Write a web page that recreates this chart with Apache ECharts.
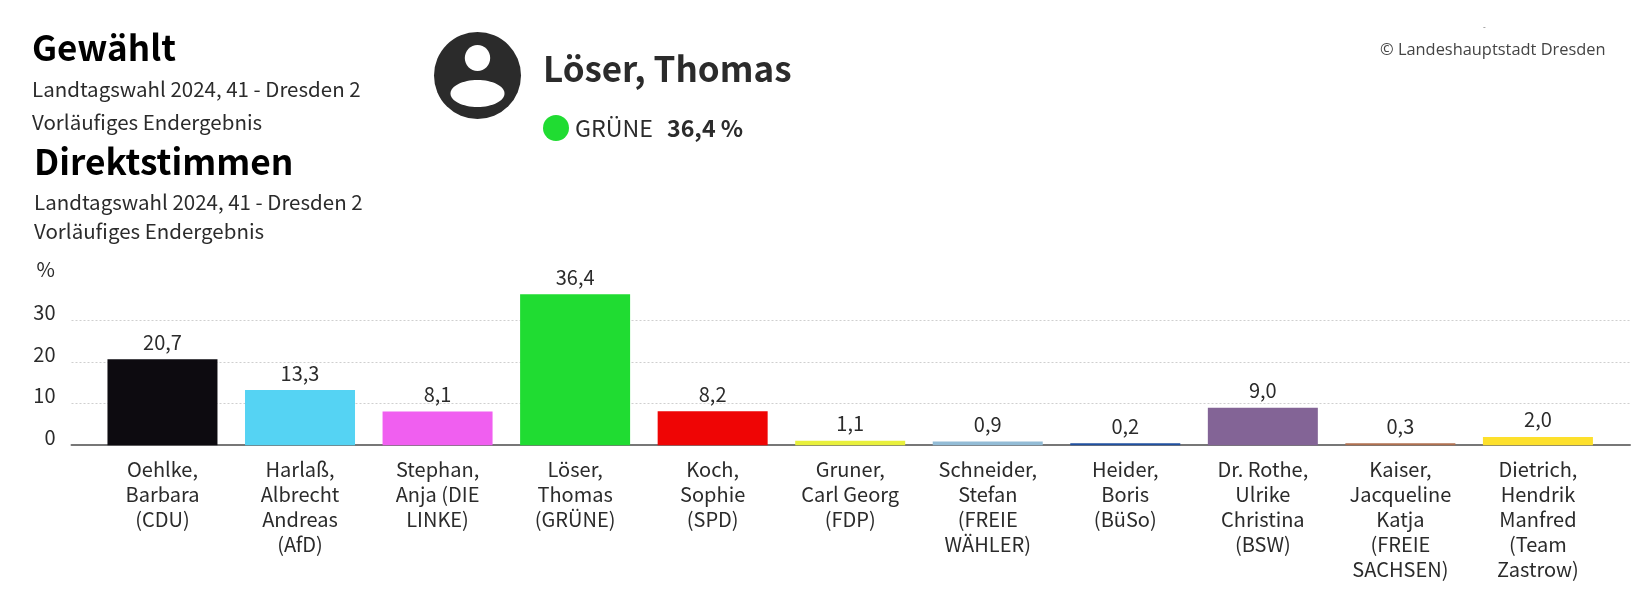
<!DOCTYPE html>
<html>
<head>
<meta charset="utf-8">
<title>Direktstimmen</title>
<style>
  html, body { margin: 0; padding: 0; background: #fff; }
  #chart { width: 1651px; height: 590px; }
</style>
<script src="https://cdn.jsdelivr.net/npm/echarts@6/dist/echarts.min.js"></script>
</head>
<body>
<div id="chart"></div>
<script>
const candidates = [
  'Oehlke,\nBarbara\n(CDU)',
  'Harlaß,\nAlbrecht\nAndreas\n(AfD)',
  'Stephan,\nAnja (DIE\nLINKE)',
  'Löser,\nThomas\n(GRÜNE)',
  'Koch,\nSophie\n(SPD)',
  'Gruner,\nCarl Georg\n(FDP)',
  'Schneider,\nStefan\n(FREIE\nWÄHLER)',
  'Heider,\nBoris\n(BüSo)',
  'Dr. Rothe,\nUlrike\nChristina\n(BSW)',
  'Kaiser,\nJacqueline\nKatja\n(FREIE\nSACHSEN)',
  'Dietrich,\nHendrik\nManfred\n(Team\nZastrow)'
];
const shares = [20.7, 13.3, 8.1, 36.4, 8.2, 1.1, 0.9, 0.2, 9.0, 0.3, 2.0];
const partyColours = ['#0d0b10', '#55d3f3', '#f05ff0', '#20dc32', '#ef0505', '#e8f03c', '#93bcd6', '#2050a0', '#836496', '#b07050', '#fde02c'];

const FONT = '"Noto Sans CJK SC", "Noto Sans", sans-serif';
const INK = '#2b2b2b';

// text block at the top, x/y are left edge and vertical centre
function label(x, y, text, size, weight, extra) {
  return {
    type: 'text',
    x: x,
    y: y,
    silent: true,
    style: Object.assign({
      text: text,
      fill: INK,
      font: `${weight} ${size}px ${FONT}`,
      textVerticalAlign: 'middle'
    }, extra)
  };
}

const chart = echarts.init(document.getElementById('chart'));

chart.setOption({
  animation: false,
  backgroundColor: '#fff',
  textStyle: { fontFamily: FONT },

  // first grid only carries the long baseline and gridlines, second one the bars
  grid: [
    { left: 71.5, width: 1558.5, top: 279.2, height: 166 },
    { left: 93.7, width: 1513, top: 279.2, height: 166 }
  ],

  xAxis: [
    {
      type: 'value',
      gridIndex: 0,
      min: 0,
      max: 1,
      axisLine: { show: true, onZero: false, lineStyle: { color: '#777', width: 2 } },
      axisTick: { show: false },
      axisLabel: { show: false },
      splitLine: { show: false }
    },
    {
      type: 'category',
      gridIndex: 1,
      data: candidates,
      axisLine: { show: false },
      axisTick: { show: false },
      axisLabel: {
        interval: 0,
        margin: 12,
        fontSize: 20,
        lineHeight: 25,
        color: INK,
        fontFamily: FONT
      }
    }
  ],

  yAxis: [
    {
      type: 'value',
      gridIndex: 0,
      min: 0,
      max: 40,
      interval: 10,
      axisLine: { show: false },
      axisTick: { show: false },
      axisLabel: {
        margin: 16,
        fontSize: 20,
        color: INK,
        fontFamily: FONT,
        verticalAlign: 'bottom',
        lineHeight: 16,
        formatter: v => (v === 40 ? '' : String(v))
      },
      splitLine: {
        showMaxLine: false,
        lineStyle: { color: '#cfcfcf', type: [2, 2], width: 1 }
      }
    },
    {
      type: 'value',
      gridIndex: 1,
      min: 0,
      max: 40,
      show: false,
      splitLine: { show: false }
    }
  ],

  series: [
    {
      type: 'bar',
      xAxisIndex: 1,
      yAxisIndex: 1,
      barWidth: 110,
      barMinHeight: 2,
      data: shares.map((v, i) => ({ value: v, itemStyle: { color: partyColours[i] } })),
      label: {
        show: true,
        position: 'top',
        distance: 7,
        fontSize: 20,
        color: INK,
        fontFamily: FONT,
        formatter: p => p.value.toFixed(1).replace('.', ',')
      }
    }
  ],

  graphic: [
    label(32, 48, 'Gewählt', 35, 700, { fill: '#000' }),
    label(32, 89, 'Landtagswahl 2024, 41 - Dresden 2', 20.5, 400),
    label(32, 122, 'Vorläufiges Endergebnis', 20.5, 400),
    label(34, 162, 'Direktstimmen', 35.3, 700, { fill: '#000' }),
    label(34, 202, 'Landtagswahl 2024, 41 - Dresden 2', 20.5, 400),
    label(34, 231, 'Vorläufiges Endergebnis', 20.5, 400),

    // person icon
    { type: 'circle', silent: true, shape: { cx: 477.5, cy: 75.5, r: 43.5 }, style: { fill: INK } },
    { type: 'ellipse', silent: true, shape: { cx: 477.5, cy: 58, rx: 12.7, ry: 13 }, style: { fill: '#fff' } },
    { type: 'ellipse', silent: true, shape: { cx: 477.5, cy: 93.5, rx: 27, ry: 13.5 }, style: { fill: '#fff' } },

    label(543, 69, 'Löser, Thomas', 35, 700),
    { type: 'circle', silent: true, shape: { cx: 556, cy: 128, r: 13 }, style: { fill: '#20dc32' } },
    label(575, 128, 'GRÜNE', 23.2, 400),
    label(667, 128, '36,4 %', 23.2, 700),

    label(1380, 50, '© Landeshauptstadt Dresden', 16.4, 400, { font: '400 16.4px "Open Sans", sans-serif', fill: '#444' }),
    label(1483, 27, '-', 8, 400, { fill: '#666' }),

    // unit above the value axis
    label(55, 269, '%', 20, 400, { textAlign: 'right' })
  ]
});
</script>
</body>
</html>
